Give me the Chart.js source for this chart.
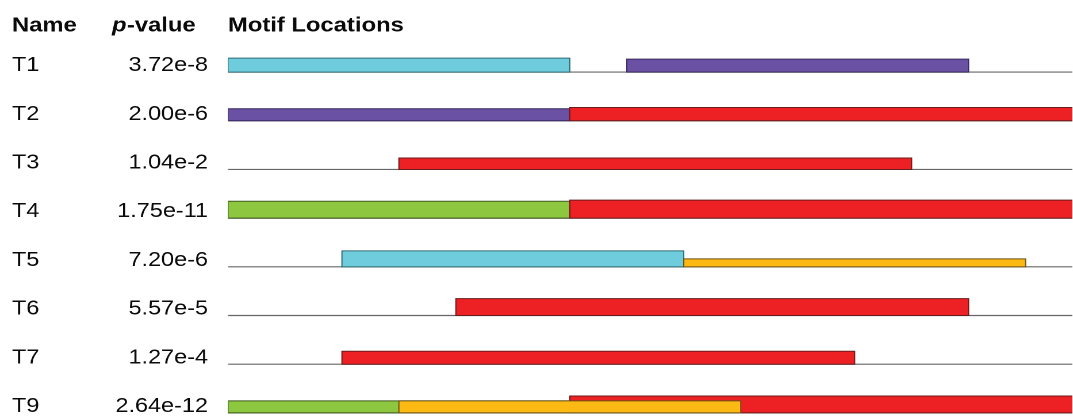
<!DOCTYPE html>
<html><head><meta charset="utf-8">
<script src="https://cdn.jsdelivr.net/npm/chart.js@4.4.1/dist/chart.umd.min.js"></script>
<style>
html,body{margin:0;padding:0;background:#fff;overflow:hidden;width:1073px;height:419px;}
#wrap{position:absolute;left:0;top:0;width:933px;height:419px;transform:scaleX(1.15005);transform-origin:0 0;}
</style></head><body>
<div id="wrap"><canvas id="c"></canvas></div>
<script>
// ---- data ----
const rowNames = ['T1','T2','T3','T4','T5','T6','T7','T9'];
const pValues  = ['3.72e-8','2.00e-6','1.04e-2','1.75e-11','7.20e-6','5.57e-5','1.27e-4','2.64e-12'];
const motifColors  = ['#6ECCDD','#6A51A3','#ED2024','#8DC63F','#FDB913'];
const motifBorders = ['#2E6A73','#37285E','#6A1B1B','#3E5A1E','#6A5214'];
// motif sites (in drawing order; later ones on top)
const siteRow    = [0, 0, 1, 1, 2, 3, 3, 4, 4, 5, 6, 7, 7, 7];
const siteMotif  = [0, 1, 1, 2, 2, 3, 2, 0, 4, 2, 2, 2, 3, 4];
const siteStart  = [0, 7, 0, 6, 3, 0, 6, 2, 8, 4, 2, 6, 0, 3];
const siteEnd    = [6, 13, 6, 15, 12, 6, 15, 8, 14, 13, 11, 15, 6, 9];
const siteHeight = [0.287, 0.266, 0.246, 0.272, 0.236, 0.348, 0.369, 0.328, 0.164, 0.348, 0.266, 0.348, 0.246, 0.246];

// ---- layout / style constants ----
const X_MAX = 14.82;
const Y_MIN = -1.468, Y_MAX = 7.113;
const LABEL_RAISE = 0.135;
const FONT = '"Liberation Sans", Arial, Helvetica, sans-serif';
const TEXT = '#0a0a0a';
const LABEL_SIZE = 20.4, HEAD_SIZE = 20.7;

const datasets = [];
rowNames.forEach((n, i) => {
  datasets.push({
    data: [{x: 0, y: i}, {x: X_MAX + 1, y: i}],
    borderColor: '#666', borderWidth: 1.2, pointRadius: 0, fill: false
  });
});
siteRow.forEach((r, k) => {
  const s = siteStart[k], e = siteEnd[k], h = siteHeight[k];
  datasets.push({
    data: [{x: s, y: r}, {x: s, y: r - h}, {x: e, y: r - h}, {x: e, y: r}, {x: s, y: r}],
    backgroundColor: motifColors[siteMotif[k]],
    borderColor: motifBorders[siteMotif[k]],
    borderWidth: 1, pointRadius: 0, tension: 0, fill: 'shape',
    borderCapStyle: 'square', borderJoinStyle: 'miter'
  });
});
datasets.forEach((d, i) => { d.order = datasets.length - i; });

const headerPlugin = {
  id: 'header',
  afterDraw(chart) {
    const ctx = chart.ctx;
    ctx.save();
    ctx.fillStyle = TEXT;
    ctx.textBaseline = 'alphabetic';
    ctx.textAlign = 'left';
    const y = 31.6;
    ctx.font = `bold ${HEAD_SIZE}px ${FONT}`;
    ctx.fillText('Name', chart.scales.yName.left, y);
    ctx.font = `italic bold ${HEAD_SIZE}px ${FONT}`;
    const px = 97.4;
    ctx.fillText('p', px, y);
    const pw = ctx.measureText('p').width;
    ctx.font = `bold ${HEAD_SIZE}px ${FONT}`;
    ctx.fillText('-value', px + pw + 0.3, y);
    ctx.fillText('Motif Locations', chart.chartArea.left, y);
    ctx.restore();
  }
};

const rowTicks = s => { s.ticks = rowNames.map((_, i) => ({value: i - LABEL_RAISE})); };

new Chart(document.getElementById('c'), {
  type: 'line',
  data: {datasets},
  options: {
    responsive: true, maintainAspectRatio: false, animation: false,
    devicePixelRatio: 2,
    layout: {padding: {left: 10.43, right: 0, top: 0, bottom: 0}},
    plugins: {legend: {display: false}, tooltip: {enabled: false}},
    events: [],
    scales: {
      x: {type: 'linear', min: 0, max: X_MAX, display: false},
      y: {
        type: 'linear', reverse: true, min: Y_MIN, max: Y_MAX, position: 'left', weight: 0,
        grid: {display: false, drawTicks: false}, border: {display: false},
        afterBuildTicks: rowTicks,
        afterFit: s => { s.width = 127.83; s.paddingTop = 0; s.paddingBottom = 0; },
        ticks: {autoSkip: false, padding: 17.4, color: TEXT, font: {family: FONT, size: LABEL_SIZE},
                callback: (v, i) => pValues[i]}
      },
      yName: {
        type: 'linear', reverse: true, min: Y_MIN, max: Y_MAX, position: 'left', weight: 1,
        grid: {display: false, drawTicks: false}, border: {display: false},
        afterBuildTicks: rowTicks,
        afterFit: s => { s.width = 60; s.paddingTop = 0; s.paddingBottom = 0; },
        ticks: {autoSkip: false, padding: 0, crossAlign: 'far', color: TEXT, font: {family: FONT, size: LABEL_SIZE},
                callback: (v, i) => rowNames[i]}
      }
    }
  },
  plugins: [headerPlugin]
});
</script>
</body></html>
